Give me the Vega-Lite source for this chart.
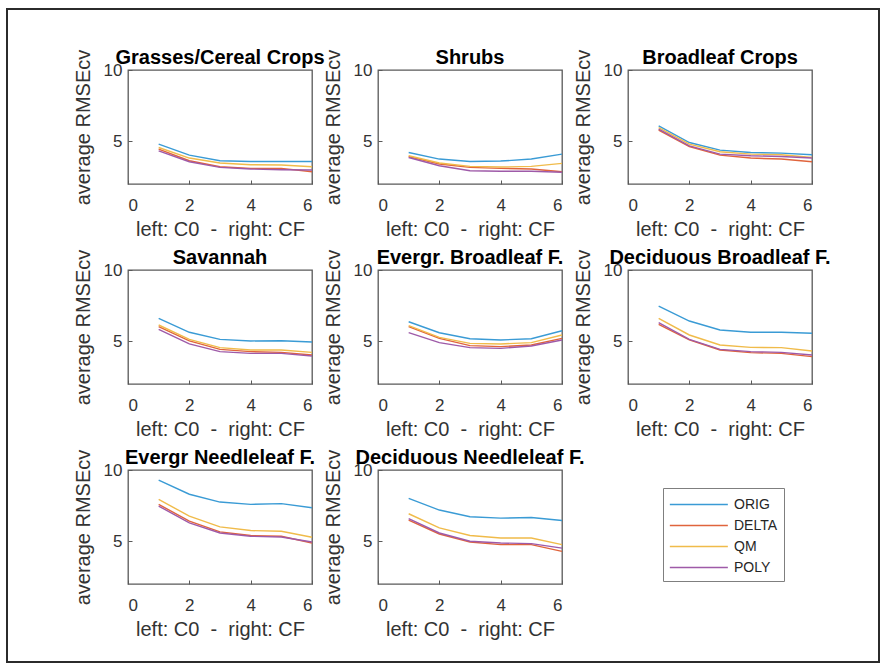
{
  "$schema": "https://vega.github.io/schema/vega-lite/v6.json",
  "padding": {"left": 7, "top": 9, "right": 2, "bottom": 2},
  "background": "white",
  "data": {"values": [
    {"p":"Grasses/Cereal Crops","m":"ORIG","x":1,"v":4.80},{"p":"Grasses/Cereal Crops","m":"ORIG","x":2,"v":4.03},{"p":"Grasses/Cereal Crops","m":"ORIG","x":3,"v":3.63},{"p":"Grasses/Cereal Crops","m":"ORIG","x":4,"v":3.58},{"p":"Grasses/Cereal Crops","m":"ORIG","x":5,"v":3.58},{"p":"Grasses/Cereal Crops","m":"ORIG","x":6,"v":3.58},
    {"p":"Grasses/Cereal Crops","m":"DELTA","x":1,"v":4.45},{"p":"Grasses/Cereal Crops","m":"DELTA","x":2,"v":3.63},{"p":"Grasses/Cereal Crops","m":"DELTA","x":3,"v":3.21},{"p":"Grasses/Cereal Crops","m":"DELTA","x":4,"v":3.10},{"p":"Grasses/Cereal Crops","m":"DELTA","x":5,"v":3.10},{"p":"Grasses/Cereal Crops","m":"DELTA","x":6,"v":2.86},
    {"p":"Grasses/Cereal Crops","m":"QM","x":1,"v":4.56},{"p":"Grasses/Cereal Crops","m":"QM","x":2,"v":3.82},{"p":"Grasses/Cereal Crops","m":"QM","x":3,"v":3.47},{"p":"Grasses/Cereal Crops","m":"QM","x":4,"v":3.35},{"p":"Grasses/Cereal Crops","m":"QM","x":5,"v":3.33},{"p":"Grasses/Cereal Crops","m":"QM","x":6,"v":3.21},
    {"p":"Grasses/Cereal Crops","m":"POLY","x":1,"v":4.33},{"p":"Grasses/Cereal Crops","m":"POLY","x":2,"v":3.56},{"p":"Grasses/Cereal Crops","m":"POLY","x":3,"v":3.17},{"p":"Grasses/Cereal Crops","m":"POLY","x":4,"v":3.05},{"p":"Grasses/Cereal Crops","m":"POLY","x":5,"v":3.00},{"p":"Grasses/Cereal Crops","m":"POLY","x":6,"v":2.98},
    {"p":"Shrubs","m":"ORIG","x":1,"v":4.21},{"p":"Shrubs","m":"ORIG","x":2,"v":3.75},{"p":"Shrubs","m":"ORIG","x":3,"v":3.58},{"p":"Shrubs","m":"ORIG","x":4,"v":3.61},{"p":"Shrubs","m":"ORIG","x":5,"v":3.75},{"p":"Shrubs","m":"ORIG","x":6,"v":4.10},
    {"p":"Shrubs","m":"DELTA","x":1,"v":3.93},{"p":"Shrubs","m":"DELTA","x":2,"v":3.40},{"p":"Shrubs","m":"DELTA","x":3,"v":3.17},{"p":"Shrubs","m":"DELTA","x":4,"v":3.10},{"p":"Shrubs","m":"DELTA","x":5,"v":3.05},{"p":"Shrubs","m":"DELTA","x":6,"v":2.86},
    {"p":"Shrubs","m":"QM","x":1,"v":3.98},{"p":"Shrubs","m":"QM","x":2,"v":3.47},{"p":"Shrubs","m":"QM","x":3,"v":3.24},{"p":"Shrubs","m":"QM","x":4,"v":3.19},{"p":"Shrubs","m":"QM","x":5,"v":3.24},{"p":"Shrubs","m":"QM","x":6,"v":3.45},
    {"p":"Shrubs","m":"POLY","x":1,"v":3.86},{"p":"Shrubs","m":"POLY","x":2,"v":3.28},{"p":"Shrubs","m":"POLY","x":3,"v":2.93},{"p":"Shrubs","m":"POLY","x":4,"v":2.89},{"p":"Shrubs","m":"POLY","x":5,"v":2.89},{"p":"Shrubs","m":"POLY","x":6,"v":2.82},
    {"p":"Broadleaf Crops","m":"ORIG","x":1,"v":6.08},{"p":"Broadleaf Crops","m":"ORIG","x":2,"v":4.91},{"p":"Broadleaf Crops","m":"ORIG","x":3,"v":4.38},{"p":"Broadleaf Crops","m":"ORIG","x":4,"v":4.21},{"p":"Broadleaf Crops","m":"ORIG","x":5,"v":4.17},{"p":"Broadleaf Crops","m":"ORIG","x":6,"v":4.05},
    {"p":"Broadleaf Crops","m":"DELTA","x":1,"v":5.78},{"p":"Broadleaf Crops","m":"DELTA","x":2,"v":4.63},{"p":"Broadleaf Crops","m":"DELTA","x":3,"v":4.03},{"p":"Broadleaf Crops","m":"DELTA","x":4,"v":3.82},{"p":"Broadleaf Crops","m":"DELTA","x":5,"v":3.75},{"p":"Broadleaf Crops","m":"DELTA","x":6,"v":3.56},
    {"p":"Broadleaf Crops","m":"QM","x":1,"v":5.96},{"p":"Broadleaf Crops","m":"QM","x":2,"v":4.80},{"p":"Broadleaf Crops","m":"QM","x":3,"v":4.26},{"p":"Broadleaf Crops","m":"QM","x":4,"v":4.10},{"p":"Broadleaf Crops","m":"QM","x":5,"v":4.05},{"p":"Broadleaf Crops","m":"QM","x":6,"v":3.86},
    {"p":"Broadleaf Crops","m":"POLY","x":1,"v":5.85},{"p":"Broadleaf Crops","m":"POLY","x":2,"v":4.68},{"p":"Broadleaf Crops","m":"POLY","x":3,"v":4.10},{"p":"Broadleaf Crops","m":"POLY","x":4,"v":3.98},{"p":"Broadleaf Crops","m":"POLY","x":5,"v":3.93},{"p":"Broadleaf Crops","m":"POLY","x":6,"v":3.82},
    {"p":"Savannah","m":"ORIG","x":1,"v":6.61},{"p":"Savannah","m":"ORIG","x":2,"v":5.63},{"p":"Savannah","m":"ORIG","x":3,"v":5.13},{"p":"Savannah","m":"ORIG","x":4,"v":5.02},{"p":"Savannah","m":"ORIG","x":5,"v":5.04},{"p":"Savannah","m":"ORIG","x":6,"v":4.95},
    {"p":"Savannah","m":"DELTA","x":1,"v":6.02},{"p":"Savannah","m":"DELTA","x":2,"v":5.02},{"p":"Savannah","m":"DELTA","x":3,"v":4.43},{"p":"Savannah","m":"DELTA","x":4,"v":4.27},{"p":"Savannah","m":"DELTA","x":5,"v":4.22},{"p":"Savannah","m":"DELTA","x":6,"v":4.04},
    {"p":"Savannah","m":"QM","x":1,"v":6.14},{"p":"Savannah","m":"QM","x":2,"v":5.13},{"p":"Savannah","m":"QM","x":3,"v":4.55},{"p":"Savannah","m":"QM","x":4,"v":4.39},{"p":"Savannah","m":"QM","x":5,"v":4.39},{"p":"Savannah","m":"QM","x":6,"v":4.22},
    {"p":"Savannah","m":"POLY","x":1,"v":5.84},{"p":"Savannah","m":"POLY","x":2,"v":4.81},{"p":"Savannah","m":"POLY","x":3,"v":4.27},{"p":"Savannah","m":"POLY","x":4,"v":4.15},{"p":"Savannah","m":"POLY","x":5,"v":4.15},{"p":"Savannah","m":"POLY","x":6,"v":3.96},
    {"p":"Evergr. Broadleaf F.","m":"ORIG","x":1,"v":6.37},{"p":"Evergr. Broadleaf F.","m":"ORIG","x":2,"v":5.60},{"p":"Evergr. Broadleaf F.","m":"ORIG","x":3,"v":5.18},{"p":"Evergr. Broadleaf F.","m":"ORIG","x":4,"v":5.09},{"p":"Evergr. Broadleaf F.","m":"ORIG","x":5,"v":5.18},{"p":"Evergr. Broadleaf F.","m":"ORIG","x":6,"v":5.74},
    {"p":"Evergr. Broadleaf F.","m":"DELTA","x":1,"v":6.02},{"p":"Evergr. Broadleaf F.","m":"DELTA","x":2,"v":5.20},{"p":"Evergr. Broadleaf F.","m":"DELTA","x":3,"v":4.69},{"p":"Evergr. Broadleaf F.","m":"DELTA","x":4,"v":4.62},{"p":"Evergr. Broadleaf F.","m":"DELTA","x":5,"v":4.74},{"p":"Evergr. Broadleaf F.","m":"DELTA","x":6,"v":5.20},
    {"p":"Evergr. Broadleaf F.","m":"QM","x":1,"v":6.09},{"p":"Evergr. Broadleaf F.","m":"QM","x":2,"v":5.27},{"p":"Evergr. Broadleaf F.","m":"QM","x":3,"v":4.85},{"p":"Evergr. Broadleaf F.","m":"QM","x":4,"v":4.81},{"p":"Evergr. Broadleaf F.","m":"QM","x":5,"v":4.90},{"p":"Evergr. Broadleaf F.","m":"QM","x":6,"v":5.44},
    {"p":"Evergr. Broadleaf F.","m":"POLY","x":1,"v":5.60},{"p":"Evergr. Broadleaf F.","m":"POLY","x":2,"v":4.90},{"p":"Evergr. Broadleaf F.","m":"POLY","x":3,"v":4.55},{"p":"Evergr. Broadleaf F.","m":"POLY","x":4,"v":4.50},{"p":"Evergr. Broadleaf F.","m":"POLY","x":5,"v":4.67},{"p":"Evergr. Broadleaf F.","m":"POLY","x":6,"v":5.09},
    {"p":"Deciduous Broadleaf F.","m":"ORIG","x":1,"v":7.47},{"p":"Deciduous Broadleaf F.","m":"ORIG","x":2,"v":6.42},{"p":"Deciduous Broadleaf F.","m":"ORIG","x":3,"v":5.79},{"p":"Deciduous Broadleaf F.","m":"ORIG","x":4,"v":5.63},{"p":"Deciduous Broadleaf F.","m":"ORIG","x":5,"v":5.63},{"p":"Deciduous Broadleaf F.","m":"ORIG","x":6,"v":5.56},
    {"p":"Deciduous Broadleaf F.","m":"DELTA","x":1,"v":6.19},{"p":"Deciduous Broadleaf F.","m":"DELTA","x":2,"v":5.09},{"p":"Deciduous Broadleaf F.","m":"DELTA","x":3,"v":4.39},{"p":"Deciduous Broadleaf F.","m":"DELTA","x":4,"v":4.20},{"p":"Deciduous Broadleaf F.","m":"DELTA","x":5,"v":4.15},{"p":"Deciduous Broadleaf F.","m":"DELTA","x":6,"v":3.92},
    {"p":"Deciduous Broadleaf F.","m":"QM","x":1,"v":6.61},{"p":"Deciduous Broadleaf F.","m":"QM","x":2,"v":5.44},{"p":"Deciduous Broadleaf F.","m":"QM","x":3,"v":4.74},{"p":"Deciduous Broadleaf F.","m":"QM","x":4,"v":4.57},{"p":"Deciduous Broadleaf F.","m":"QM","x":5,"v":4.55},{"p":"Deciduous Broadleaf F.","m":"QM","x":6,"v":4.32},
    {"p":"Deciduous Broadleaf F.","m":"POLY","x":1,"v":6.30},{"p":"Deciduous Broadleaf F.","m":"POLY","x":2,"v":5.13},{"p":"Deciduous Broadleaf F.","m":"POLY","x":3,"v":4.43},{"p":"Deciduous Broadleaf F.","m":"POLY","x":4,"v":4.27},{"p":"Deciduous Broadleaf F.","m":"POLY","x":5,"v":4.22},{"p":"Deciduous Broadleaf F.","m":"POLY","x":6,"v":4.04},
    {"p":"Evergr Needleleaf F.","m":"ORIG","x":1,"v":9.29},{"p":"Evergr Needleleaf F.","m":"ORIG","x":2,"v":8.30},{"p":"Evergr Needleleaf F.","m":"ORIG","x":3,"v":7.75},{"p":"Evergr Needleleaf F.","m":"ORIG","x":4,"v":7.59},{"p":"Evergr Needleleaf F.","m":"ORIG","x":5,"v":7.64},{"p":"Evergr Needleleaf F.","m":"ORIG","x":6,"v":7.35},
    {"p":"Evergr Needleleaf F.","m":"DELTA","x":1,"v":7.59},{"p":"Evergr Needleleaf F.","m":"DELTA","x":2,"v":6.41},{"p":"Evergr Needleleaf F.","m":"DELTA","x":3,"v":5.66},{"p":"Evergr Needleleaf F.","m":"DELTA","x":4,"v":5.40},{"p":"Evergr Needleleaf F.","m":"DELTA","x":5,"v":5.35},{"p":"Evergr Needleleaf F.","m":"DELTA","x":6,"v":4.88},
    {"p":"Evergr Needleleaf F.","m":"QM","x":1,"v":7.94},{"p":"Evergr Needleleaf F.","m":"QM","x":2,"v":6.76},{"p":"Evergr Needleleaf F.","m":"QM","x":3,"v":6.01},{"p":"Evergr Needleleaf F.","m":"QM","x":4,"v":5.75},{"p":"Evergr Needleleaf F.","m":"QM","x":5,"v":5.70},{"p":"Evergr Needleleaf F.","m":"QM","x":6,"v":5.28},
    {"p":"Evergr Needleleaf F.","m":"POLY","x":1,"v":7.47},{"p":"Evergr Needleleaf F.","m":"POLY","x":2,"v":6.29},{"p":"Evergr Needleleaf F.","m":"POLY","x":3,"v":5.58},{"p":"Evergr Needleleaf F.","m":"POLY","x":4,"v":5.35},{"p":"Evergr Needleleaf F.","m":"POLY","x":5,"v":5.30},{"p":"Evergr Needleleaf F.","m":"POLY","x":6,"v":4.95},
    {"p":"Deciduous Needleleaf F.","m":"ORIG","x":1,"v":8.01},{"p":"Deciduous Needleleaf F.","m":"ORIG","x":2,"v":7.19},{"p":"Deciduous Needleleaf F.","m":"ORIG","x":3,"v":6.72},{"p":"Deciduous Needleleaf F.","m":"ORIG","x":4,"v":6.62},{"p":"Deciduous Needleleaf F.","m":"ORIG","x":5,"v":6.67},{"p":"Deciduous Needleleaf F.","m":"ORIG","x":6,"v":6.46},
    {"p":"Deciduous Needleleaf F.","m":"DELTA","x":1,"v":6.49},{"p":"Deciduous Needleleaf F.","m":"DELTA","x":2,"v":5.51},{"p":"Deciduous Needleleaf F.","m":"DELTA","x":3,"v":4.95},{"p":"Deciduous Needleleaf F.","m":"DELTA","x":4,"v":4.76},{"p":"Deciduous Needleleaf F.","m":"DELTA","x":5,"v":4.76},{"p":"Deciduous Needleleaf F.","m":"DELTA","x":6,"v":4.29},
    {"p":"Deciduous Needleleaf F.","m":"QM","x":1,"v":6.93},{"p":"Deciduous Needleleaf F.","m":"QM","x":2,"v":5.94},{"p":"Deciduous Needleleaf F.","m":"QM","x":3,"v":5.40},{"p":"Deciduous Needleleaf F.","m":"QM","x":4,"v":5.23},{"p":"Deciduous Needleleaf F.","m":"QM","x":5,"v":5.23},{"p":"Deciduous Needleleaf F.","m":"QM","x":6,"v":4.76},
    {"p":"Deciduous Needleleaf F.","m":"POLY","x":1,"v":6.58},{"p":"Deciduous Needleleaf F.","m":"POLY","x":2,"v":5.58},{"p":"Deciduous Needleleaf F.","m":"POLY","x":3,"v":5.00},{"p":"Deciduous Needleleaf F.","m":"POLY","x":4,"v":4.88},{"p":"Deciduous Needleleaf F.","m":"POLY","x":5,"v":4.83},{"p":"Deciduous Needleleaf F.","m":"POLY","x":6,"v":4.52}
  ]},
  "columns": 3,
  "bounds": "flush",
  "spacing": {"row": 86, "column": 66},
  "concat": [
    {
      "title": {"text": "Grasses/Cereal Crops"},
      "width": 184, "height": 114,
      "transform": [{"filter": "datum.p === 'Grasses/Cereal Crops'"}],
      "layer": [
        {
          "mark": {"type": "line", "strokeWidth": 1.4},
          "encoding": {
            "x": {"field": "x", "type": "quantitative", "scale": {"domain": [0, 6]}, "axis": {"values": [0, 2, 4, 6], "title": "left: C0\u00a0 -\u00a0 right: CF"}},
            "y": {"field": "v", "type": "quantitative", "scale": {"domain": [2, 10], "nice": false}, "axis": {"values": [5, 10], "title": "average RMSEcv"}},
            "color": {"field": "m", "type": "nominal", "scale": {"domain": ["ORIG", "DELTA", "QM", "POLY"], "range": ["#3a9bd5", "#e0643c", "#f0bb4a", "#9e5aa8"]}, "legend": {"orient": "none", "legendX": 535, "legendY": 418, "title": null, "symbolType": "M-1,0H5", "symbolSize": 374, "symbolStrokeWidth": 1.5, "labelOffset": 44, "labelFontSize": 14, "labelColor": "#262626", "strokeColor": "#7f7f7f", "fillColor": "white", "padding": 6, "rowPadding": 3}}
          }
        },
        {
          "mark": {"type": "circle", "opacity": 0, "size": 0},
          "encoding": {
            "x": {"field": "x", "type": "quantitative"},
            "y": {"field": "v", "type": "quantitative"},
            "fill": {"field": "x", "type": "quantitative", "scale": {"domain": [0, 1], "range": ["rgba(0,0,0,0)", "rgba(0,0,0,0)"]}, "legend": {"type": "gradient", "orient": "none", "legendX": -121, "legendY": -61, "direction": "horizontal", "gradientLength": 872, "gradientThickness": 653, "gradientStrokeColor": "#2b2b2b", "gradientStrokeWidth": 2, "labelExpr": "''", "labelOpacity": 0, "labelFontSize": 1, "title": null, "padding": 0}}
          }
        }
      ]
    },
    {
      "title": {"text": "Shrubs"},
      "width": 184, "height": 114,
      "transform": [{"filter": "datum.p === 'Shrubs'"}],
      "mark": {"type": "line", "strokeWidth": 1.4},
      "encoding": {
        "x": {"field": "x", "type": "quantitative", "scale": {"domain": [0, 6]}, "axis": {"values": [0, 2, 4, 6], "title": "left: C0\u00a0 -\u00a0 right: CF"}},
        "y": {"field": "v", "type": "quantitative", "scale": {"domain": [2, 10], "nice": false}, "axis": {"values": [5, 10], "title": "average RMSEcv"}},
        "color": {"field": "m", "type": "nominal", "scale": {"domain": ["ORIG", "DELTA", "QM", "POLY"], "range": ["#3a9bd5", "#e0643c", "#f0bb4a", "#9e5aa8"]}}
      }
    },
    {
      "title": {"text": "Broadleaf Crops"},
      "width": 184, "height": 114,
      "transform": [{"filter": "datum.p === 'Broadleaf Crops'"}],
      "mark": {"type": "line", "strokeWidth": 1.4},
      "encoding": {
        "x": {"field": "x", "type": "quantitative", "scale": {"domain": [0, 6]}, "axis": {"values": [0, 2, 4, 6], "title": "left: C0\u00a0 -\u00a0 right: CF"}},
        "y": {"field": "v", "type": "quantitative", "scale": {"domain": [2, 10], "nice": false}, "axis": {"values": [5, 10], "title": "average RMSEcv"}},
        "color": {"field": "m", "type": "nominal", "scale": {"domain": ["ORIG", "DELTA", "QM", "POLY"], "range": ["#3a9bd5", "#e0643c", "#f0bb4a", "#9e5aa8"]}}
      }
    },
    {
      "title": {"text": "Savannah"},
      "width": 184, "height": 114,
      "transform": [{"filter": "datum.p === 'Savannah'"}],
      "mark": {"type": "line", "strokeWidth": 1.4},
      "encoding": {
        "x": {"field": "x", "type": "quantitative", "scale": {"domain": [0, 6]}, "axis": {"values": [0, 2, 4, 6], "title": "left: C0\u00a0 -\u00a0 right: CF"}},
        "y": {"field": "v", "type": "quantitative", "scale": {"domain": [2, 10], "nice": false}, "axis": {"values": [5, 10], "title": "average RMSEcv"}},
        "color": {"field": "m", "type": "nominal", "scale": {"domain": ["ORIG", "DELTA", "QM", "POLY"], "range": ["#3a9bd5", "#e0643c", "#f0bb4a", "#9e5aa8"]}}
      }
    },
    {
      "title": {"text": "Evergr. Broadleaf F."},
      "width": 184, "height": 114,
      "transform": [{"filter": "datum.p === 'Evergr. Broadleaf F.'"}],
      "mark": {"type": "line", "strokeWidth": 1.4},
      "encoding": {
        "x": {"field": "x", "type": "quantitative", "scale": {"domain": [0, 6]}, "axis": {"values": [0, 2, 4, 6], "title": "left: C0\u00a0 -\u00a0 right: CF"}},
        "y": {"field": "v", "type": "quantitative", "scale": {"domain": [2, 10], "nice": false}, "axis": {"values": [5, 10], "title": "average RMSEcv"}},
        "color": {"field": "m", "type": "nominal", "scale": {"domain": ["ORIG", "DELTA", "QM", "POLY"], "range": ["#3a9bd5", "#e0643c", "#f0bb4a", "#9e5aa8"]}}
      }
    },
    {
      "title": {"text": "Deciduous Broadleaf F."},
      "width": 184, "height": 114,
      "transform": [{"filter": "datum.p === 'Deciduous Broadleaf F.'"}],
      "mark": {"type": "line", "strokeWidth": 1.4},
      "encoding": {
        "x": {"field": "x", "type": "quantitative", "scale": {"domain": [0, 6]}, "axis": {"values": [0, 2, 4, 6], "title": "left: C0\u00a0 -\u00a0 right: CF"}},
        "y": {"field": "v", "type": "quantitative", "scale": {"domain": [2, 10], "nice": false}, "axis": {"values": [5, 10], "title": "average RMSEcv"}},
        "color": {"field": "m", "type": "nominal", "scale": {"domain": ["ORIG", "DELTA", "QM", "POLY"], "range": ["#3a9bd5", "#e0643c", "#f0bb4a", "#9e5aa8"]}}
      }
    },
    {
      "title": {"text": "Evergr Needleleaf F."},
      "width": 184, "height": 114,
      "transform": [{"filter": "datum.p === 'Evergr Needleleaf F.'"}],
      "mark": {"type": "line", "strokeWidth": 1.4},
      "encoding": {
        "x": {"field": "x", "type": "quantitative", "scale": {"domain": [0, 6]}, "axis": {"values": [0, 2, 4, 6], "title": "left: C0\u00a0 -\u00a0 right: CF"}},
        "y": {"field": "v", "type": "quantitative", "scale": {"domain": [2, 10], "nice": false}, "axis": {"values": [5, 10], "title": "average RMSEcv"}},
        "color": {"field": "m", "type": "nominal", "scale": {"domain": ["ORIG", "DELTA", "QM", "POLY"], "range": ["#3a9bd5", "#e0643c", "#f0bb4a", "#9e5aa8"]}}
      }
    },
    {
      "title": {"text": "Deciduous Needleleaf F."},
      "width": 184, "height": 114,
      "transform": [{"filter": "datum.p === 'Deciduous Needleleaf F.'"}],
      "mark": {"type": "line", "strokeWidth": 1.4},
      "encoding": {
        "x": {"field": "x", "type": "quantitative", "scale": {"domain": [0, 6]}, "axis": {"values": [0, 2, 4, 6], "title": "left: C0\u00a0 -\u00a0 right: CF"}},
        "y": {"field": "v", "type": "quantitative", "scale": {"domain": [2, 10], "nice": false}, "axis": {"values": [5, 10], "title": "average RMSEcv"}},
        "color": {"field": "m", "type": "nominal", "scale": {"domain": ["ORIG", "DELTA", "QM", "POLY"], "range": ["#3a9bd5", "#e0643c", "#f0bb4a", "#9e5aa8"]}}
      }
    }
  ],
  "config": {
    "font": "Liberation Sans",
    "view": {"stroke": "#595959", "strokeWidth": 1.3},
    "axis": {
      "domain": false, "grid": false,
      "ticks": true, "tickSize": -4, "tickColor": "#595959", "tickWidth": 1,
      "labelFont": "Liberation Sans", "labelFontSize": 17, "labelColor": "#333333",
      "titleFont": "Liberation Sans", "titleFontSize": 20, "titleFontWeight": "normal", "titleColor": "#333333"
    },
    "axisX": {"labelPadding": 17, "titlePadding": 6},
    "axisY": {"labelPadding": 10, "titlePadding": 10},
    "title": {"font": "Liberation Sans", "fontSize": 20, "fontWeight": "bold", "color": "#000000", "anchor": "middle", "frame": "group", "offset": -19}
  }
}
